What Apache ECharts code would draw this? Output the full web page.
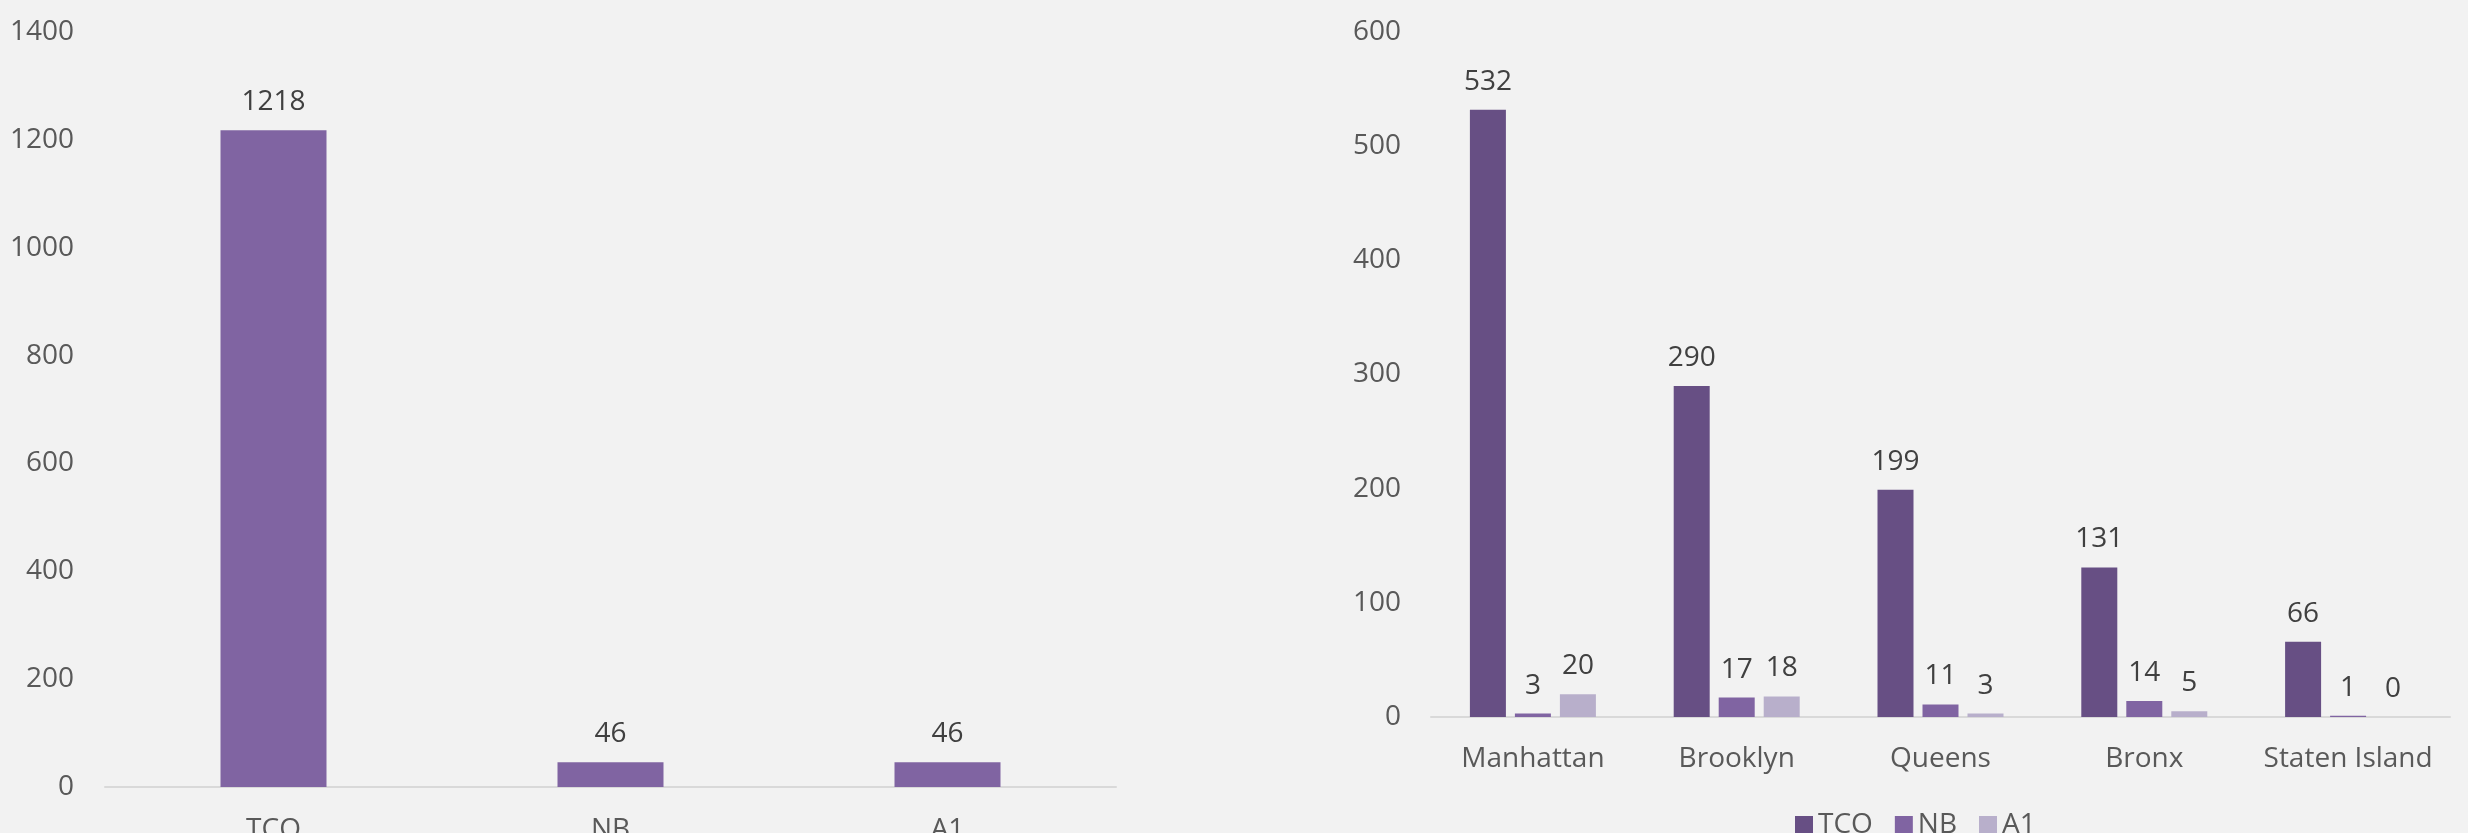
<!DOCTYPE html>
<html>
<head>
<meta charset="utf-8">
<script src="https://cdn.jsdelivr.net/npm/echarts@6/dist/echarts.min.js"></script>
<style>
html,body{margin:0;padding:0;background:#F2F2F2;}
#chart{width:2468px;height:833px;}
</style>
</head>
<body>
<div id="chart"></div>
<script>
// Left chart data
const totalCategories = ['TCO', 'NB', 'A1'];
const totalValues = [1218, 46, 46];
const leftTicks = { min: 0, max: 1400, interval: 200 };

// Right chart data
const boroughs = ['Manhattan', 'Brooklyn', 'Queens', 'Bronx', 'Staten Island'];
const seriesNames = ['TCO', 'NB', 'A1'];
const tcoValues = [532, 290, 199, 131, 66];
const nbValues = [3, 17, 11, 14, 1];
const a1Values = [20, 18, 3, 5, 0];
const rightTicks = { min: 0, max: 600, interval: 100 };

const FONT = 'Open Sans';
const FS = 28;
const colors = ['#674F84', '#8064A2', '#B8AFCB'];

const chart = echarts.init(document.getElementById('chart'), null, { renderer: 'canvas' });

const labelStyle = {
  show: true, position: 'top', distance: 14,
  color: '#404040', fontSize: FS, fontFamily: FONT
};
const plain = v => String(v);

const option = {
  backgroundColor: '#F2F2F2',
  animation: false,
  textStyle: { fontFamily: FONT },
  grid: [
    { left: 105, right: 1352, top: 32, bottom: 46, containLabel: false, outerBoundsMode: 'none' },
    { left: 1431, right: 18, top: 32, bottom: 116, containLabel: false, outerBoundsMode: 'none' }
  ],
  legend: {
    data: seriesNames,
    left: 1790, top: 806,
    itemWidth: 18, itemHeight: 18, itemGap: 22,
    icon: 'rect',
    textStyle: { color: '#595959', fontSize: FS, fontFamily: FONT }
  },
  xAxis: [
    {
      type: 'category', gridIndex: 0, data: totalCategories,
      axisLine: { lineStyle: { color: '#D9D9D9', width: 2 } },
      axisTick: { show: false },
      axisLabel: { color: '#595959', fontSize: FS, fontFamily: FONT, margin: 29, interval: 0 }
    },
    {
      type: 'category', gridIndex: 1, data: boroughs,
      axisLine: { lineStyle: { color: '#D9D9D9', width: 2 } },
      axisTick: { show: false },
      axisLabel: { color: '#595959', fontSize: FS, fontFamily: FONT, margin: 28, interval: 0 }
    }
  ],
  yAxis: [
    {
      type: 'value', gridIndex: 0, min: leftTicks.min, max: leftTicks.max, interval: leftTicks.interval,
      axisLine: { show: false }, axisTick: { show: false }, splitLine: { show: false },
      axisLabel: { color: '#595959', fontSize: FS, fontFamily: FONT, margin: 31, formatter: plain }
    },
    {
      type: 'value', gridIndex: 1, min: rightTicks.min, max: rightTicks.max, interval: rightTicks.interval,
      axisLine: { show: false }, axisTick: { show: false }, splitLine: { show: false },
      axisLabel: { color: '#595959', fontSize: FS, fontFamily: FONT, margin: 30, formatter: plain }
    }
  ],
  series: [
    {
      name: 'Total', type: 'bar', xAxisIndex: 0, yAxisIndex: 0,
      data: totalValues, barWidth: 106,
      itemStyle: { color: '#8064A2' },
      label: labelStyle
    },
    {
      name: seriesNames[0], type: 'bar', xAxisIndex: 1, yAxisIndex: 1,
      data: tcoValues, barWidth: 36, barGap: '25%',
      itemStyle: { color: colors[0] }, label: labelStyle
    },
    {
      name: seriesNames[1], type: 'bar', xAxisIndex: 1, yAxisIndex: 1,
      data: nbValues, barWidth: 36, barGap: '25%',
      itemStyle: { color: colors[1] }, label: labelStyle
    },
    {
      name: seriesNames[2], type: 'bar', xAxisIndex: 1, yAxisIndex: 1,
      data: a1Values, barWidth: 36, barGap: '25%',
      itemStyle: { color: colors[2] }, label: labelStyle
    }
  ]
};
chart.setOption(option);
</script>
</body>
</html>
